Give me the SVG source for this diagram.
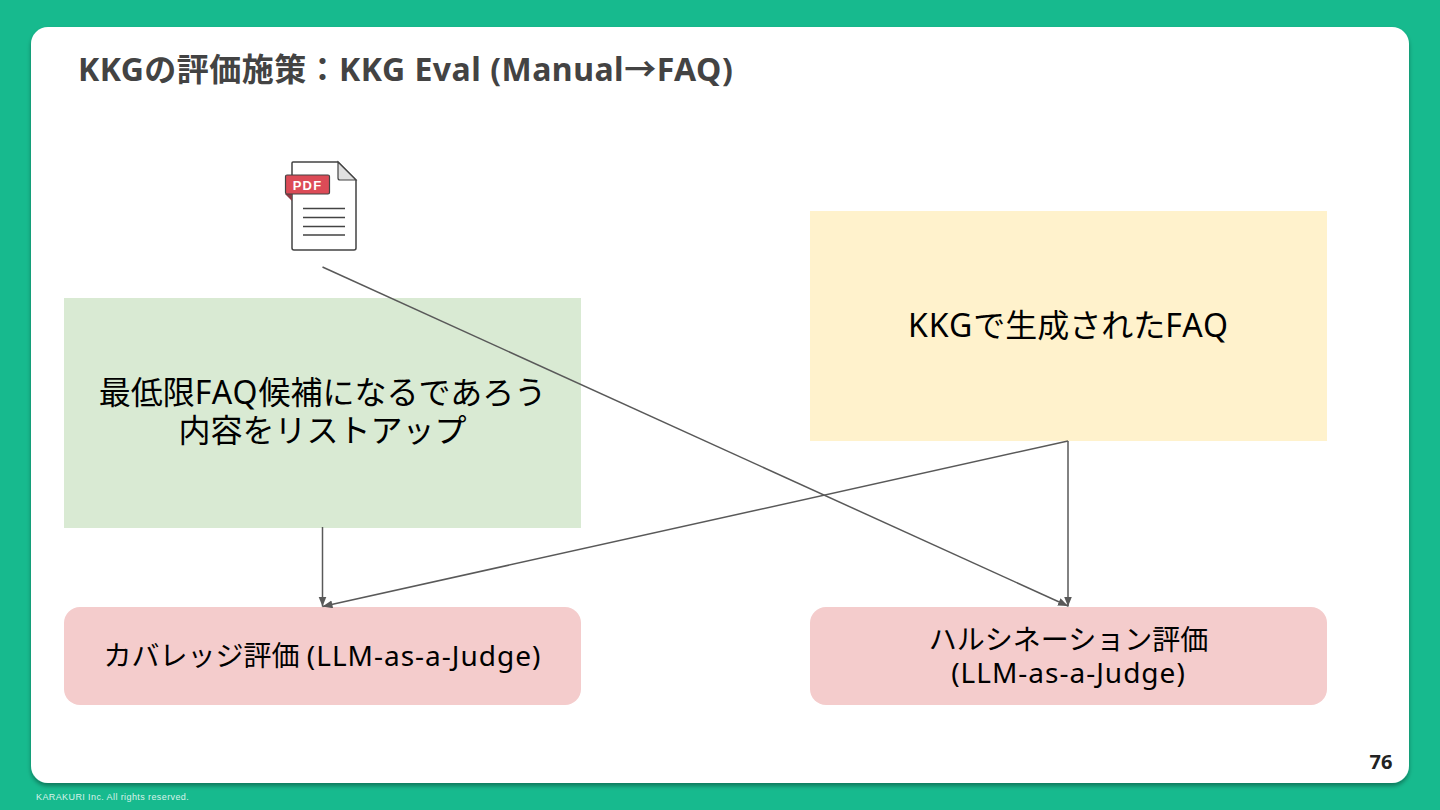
<svg xmlns="http://www.w3.org/2000/svg" width="1440" height="810" viewBox="0 0 1440 810">
<style>
text{font-family:"Noto Sans","Noto Sans CJK JP",sans-serif;fill:#000;text-anchor:middle}
.c{fill:none;stroke:#595959;stroke-width:1.5}
.t{font-size:32px}
.s{font-size:28px}
.l{letter-spacing:1px}
</style>
<defs>
<marker id="a" markerUnits="userSpaceOnUse" markerWidth="12" markerHeight="10" refX="10" refY="4" orient="auto"><path d="M0 0L10 4L0 8Z" fill="#595959"/></marker>
<filter id="sh" x="-5%" y="-5%" width="110%" height="110%"><feDropShadow dx="0" dy="3" stdDeviation="2" flood-color="#000" flood-opacity=".35"/></filter>
</defs>
<rect width="1440" height="810" fill="#17ba8e"/>
<rect x="31" y="27" width="1378" height="756" rx="17" fill="#fff" filter="url(#sh)"/>
<text id="title" x="78" y="81" style="text-anchor:start;font-size:32px;font-weight:700;fill:#434343;letter-spacing:.45px">KKGの評価施策：<tspan style="letter-spacing:.5px">KKG Eval (Manual→FAQ)</tspan></text>
<g id="pdf">
<path d="M293 162H338L356 180V248Q356 250 354 250H294Q292 250 292 248V163Q292 162 293 162Z" fill="#fff" stroke="#434343" stroke-width="1.5"/>
<path d="M338 162L356 180H340Q338 180 338 178Z" fill="#e0e0e0" stroke="#434343" stroke-width="1.2"/>
<path d="M285 194L292 201V194Z" fill="#8e3a45"/>
<rect x="285.500" y="175" width="44" height="19" rx="1.500" fill="#dc4b57" stroke="#434343" stroke-width="1.200"/>
<text x="307.500" y="190" style="font-size:13px;font-weight:700;fill:#fff;letter-spacing:1.2px;font-family:'Liberation Sans',sans-serif">PDF</text>
<path d="M303 208.500H345M303 217.500H345M303 226.500H345M303 235H345" stroke="#434343" stroke-width="1.500"/>
</g>
<g id="list"><rect x="64" y="298" width="517" height="230" fill="#d9ead3"/>
<text class="t" x="322.500" y="404">最低限<tspan class="l">FAQ</tspan>候補になるであろう</text><text class="t" x="322.500" y="442">内容をリストアップ</text></g>
<g id="faq"><rect x="810" y="211" width="517" height="230" fill="#fff2cc"/>
<text class="t" x="1068.500" y="337"><tspan class="l">KKG</tspan>で生成された<tspan class="l">FAQ</tspan></text></g>
<g id="coverage"><rect x="64" y="607" width="517" height="98" rx="16" fill="#f4cccc"/>
<text class="s" x="322.500" y="666">カバレッジ評価 <tspan class="l">(LLM-as-a-Judge)</tspan></text></g>
<g id="hallucination"><rect x="810" y="607" width="517" height="98" rx="16" fill="#f4cccc"/>
<text class="s" x="1068.500" y="650">ハルシネーション評価</text><text class="s l" x="1068.500" y="683">(LLM-as-a-Judge)</text></g>
<g id="connectors">
<path class="c" d="M322.500 267L1068 606" marker-end="url(#a)"/>
<path class="c" d="M322.500 527V606.500" marker-end="url(#a)"/>
<path class="c" d="M1068 441L322.500 606.500" marker-end="url(#a)"/>
<path class="c" d="M1068 441V606.500" marker-end="url(#a)"/>
</g>
<text id="page" x="1381" y="769" style="font-size:20px;font-weight:700;fill:#222">76</text>
<text id="copy" x="36" y="800" style="text-anchor:start;font-size:9px;fill:#d9f3ea;letter-spacing:.4px;font-family:'Liberation Sans',sans-serif">KARAKURI Inc. All rights reserved.</text>
</svg>
